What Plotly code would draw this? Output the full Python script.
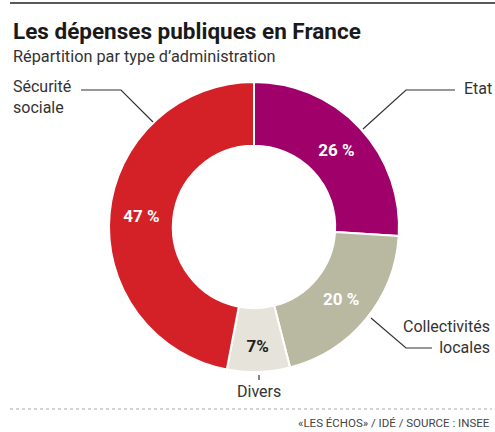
import plotly.graph_objects as go

W, H = 495, 432

categories = ["Etat", "Collectivités locales", "Divers", "Sécurité sociale"]
values = [26, 20, 7, 47]
value_labels = ["26 %", "20 %", "7%", "47 %"]
colors = ["#a0006a", "#b9b8a0", "#e6e4da", "#d42128"]
text_colors = ["white", "white", "#222222", "white"]

title = "Les dépenses publiques en France"
subtitle = "Répartition par type d’administration"
source = "«LES ÉCHOS» / IDÉ / SOURCE : INSEE"

FONT = "Roboto, 'Open Sans', sans-serif"


def px(x):
    return x / W


def py(y):
    return 1 - y / H


cx, cy, R = 254, 227, 145

fig = go.Figure(
    go.Pie(
        labels=categories,
        values=values,
        customdata=value_labels,
        texttemplate="%{customdata}",
        textposition="inside",
        insidetextorientation="horizontal",
        textfont=dict(family=FONT, size=17, color=text_colors, weight="bold"),
        marker=dict(colors=colors, line=dict(color="white", width=2)),
        hole=0.56,
        sort=False,
        direction="clockwise",
        rotation=0,
        showlegend=False,
        hoverinfo="label+percent",
        domain=dict(x=[px(cx - R), px(cx + R)], y=[py(cy + R), py(cy - R)]),
    )
)

line_style = dict(color="#333333", width=1.2)
shapes = [
    # top rule
    dict(type="line", xref="paper", yref="paper", x0=px(10), x1=1, y0=py(3), y1=py(3),
         line=dict(color="#222222", width=1.5)),
    # footer dotted rule
    dict(type="line", xref="paper", yref="paper", x0=px(10), x1=px(492), y0=py(409), y1=py(409),
         line=dict(color="#aaaaaa", width=1, dash="dot")),
    # Sécurité sociale leader
    dict(type="path", xref="paper", yref="paper",
         path=f"M {px(81)} {py(90)} L {px(121)} {py(90)} L {px(153)} {py(122)}", line=line_style),
    # Etat leader
    dict(type="path", xref="paper", yref="paper",
         path=f"M {px(455)} {py(90)} L {px(406)} {py(90)} L {px(363)} {py(129)}", line=line_style),
    # Collectivités leader
    dict(type="path", xref="paper", yref="paper",
         path=f"M {px(432)} {py(348)} L {px(406)} {py(348)} L {px(371)} {py(318)}", line=line_style),
    # Divers tick
    dict(type="line", xref="paper", yref="paper", x0=px(259), x1=px(259), y0=py(375), y1=py(380),
         line=line_style),
]

annotations = [
    dict(text=f"<b>{title}</b>", x=px(11), y=py(31), xanchor="left", yanchor="middle",
         font=dict(family=FONT, size=22.5, color="#1a1a1a")),
    dict(text=subtitle, x=px(11), y=py(57), xanchor="left", yanchor="middle",
         font=dict(family=FONT, size=16.3, color="#333333")),
    dict(text="Sécurité<br>sociale", x=px(11), y=py(97), xanchor="left", yanchor="middle", align="left",
         font=dict(family=FONT, size=16, color="#333333")),
    dict(text="Etat", x=px(462), y=py(89), xanchor="left", yanchor="middle",
         font=dict(family=FONT, size=16, color="#333333")),
    dict(text="Collectivités<br>locales", x=px(492), y=py(337), xanchor="right", yanchor="middle", align="right",
         font=dict(family=FONT, size=16, color="#333333")),
    dict(text="Divers", x=px(259), y=py(391), xanchor="center", yanchor="middle",
         font=dict(family=FONT, size=16, color="#333333")),
    dict(text=source, x=px(492), y=py(423), xanchor="right", yanchor="middle",
         font=dict(family=FONT, size=11.5, color="#444444")),
]
for a in annotations:
    a.update(xref="paper", yref="paper", showarrow=False)

fig.update_layout(
    width=W, height=H,
    margin=dict(l=0, r=0, t=0, b=0),
    paper_bgcolor="white", plot_bgcolor="white",
    shapes=shapes, annotations=annotations,
    uniformtext=dict(minsize=14, mode="show"),
)

fig.write_html("out.html")
